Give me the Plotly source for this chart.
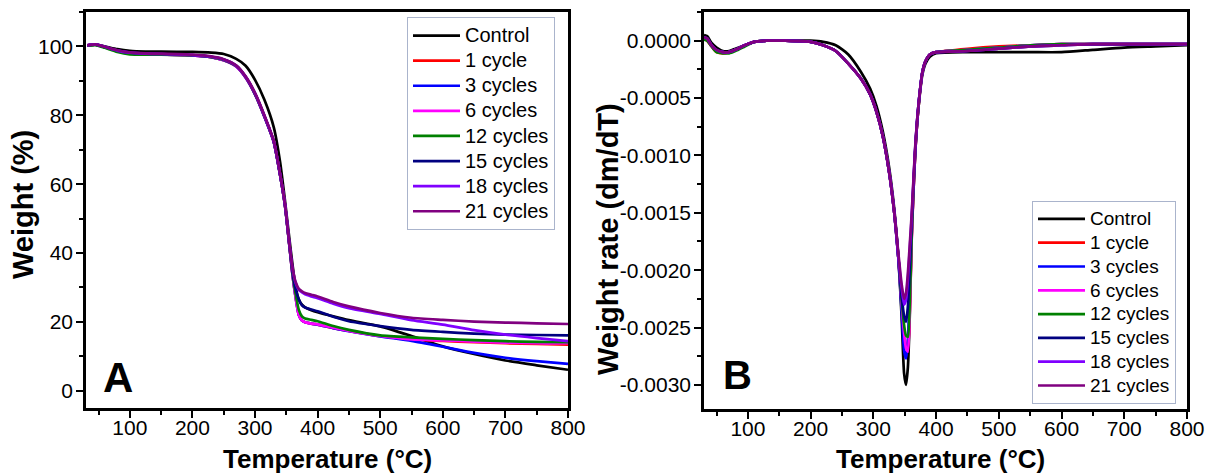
import plotly.graph_objects as go

# ---------------- data ----------------
series_names = ["Control", "1 cycle", "3 cycles", "6 cycles", "12 cycles",
                "15 cycles", "18 cycles", "21 cycles"]
series_colors = ["#000000", "#ff0000", "#0000ff", "#ff00ff", "#008000",
                 "#000080", "#8000ff", "#800080"]

# Panel A: weight (%) vs temperature
temp_a = [32, 45, 60, 80, 100, 125, 150, 200, 230, 250, 270, 285, 300, 315, 330,
          340, 348, 355, 360, 365, 370, 375, 380, 390, 400, 425, 450, 500, 550,
          600, 650, 700, 750, 800]
w_control = [100.2, 100.5, 100.0, 99.2, 98.7, 98.5, 98.5, 98.4, 98.2, 97.8, 96.4, 94.4,
             90.3, 84.5, 76.5, 66.5, 55.0, 44.0, 36.5, 30.0, 26.5, 25.0, 24.2, 23.4,
             22.8, 21.6, 20.5, 18.7, 15.9, 12.9, 10.7, 8.8, 7.4, 6.1]
w_1 = [100.3, 100.5, 99.8, 98.7, 98.1, 97.8, 97.7, 97.4, 96.9, 96.0, 94.2, 91.0,
       86.1, 79.6, 72.3, 62.8, 53.7, 42.1, 33.5, 27.0, 22.0, 20.4, 19.9, 19.5,
       19.2, 18.2, 17.4, 15.9, 14.9, 14.5, 14.1, 13.8, 13.6, 13.4]
w_3 = [100.3, 100.5, 99.8, 98.7, 98.1, 97.8, 97.7, 97.4, 96.9, 96.0, 94.2, 91.0,
       86.1, 79.6, 72.3, 62.8, 53.7, 42.1, 33.5, 27.0, 22.0, 20.4, 19.9, 19.5,
       19.2, 18.2, 17.3, 15.8, 14.5, 12.8, 11.0, 9.6, 8.6, 7.8]
w_6 = [100.3, 100.5, 99.8, 98.7, 98.1, 97.8, 97.7, 97.4, 96.9, 96.0, 94.2, 91.0,
       86.2, 79.7, 72.4, 62.9, 53.8, 42.2, 33.5, 27.0, 22.0, 20.4, 19.9, 19.5,
       19.3, 18.3, 17.4, 15.9, 14.9, 14.6, 14.3, 14.0, 13.8, 13.8]
w_12 = [100.2, 100.4, 99.6, 98.4, 97.7, 97.6, 97.6, 97.4, 96.9, 96.1, 94.3, 91.1,
        86.2, 79.7, 72.2, 62.7, 53.6, 42.0, 34.0, 28.0, 23.5, 21.6, 21.0, 20.6,
        20.2, 18.8, 17.7, 16.1, 15.5, 15.1, 14.7, 14.4, 14.2, 14.1]
w_15 = [100.3, 100.6, 99.9, 98.8, 98.2, 97.9, 97.8, 97.5, 97.0, 96.2, 94.4, 91.2,
        86.3, 79.8, 72.3, 62.8, 53.8, 42.3, 34.5, 29.5, 26.5, 24.8, 24.2, 23.6,
        23.1, 21.5, 20.2, 18.8, 17.7, 17.1, 16.6, 16.3, 16.2, 16.1]
w_18 = [100.3, 100.6, 99.9, 98.8, 98.2, 97.9, 97.8, 97.5, 97.0, 96.2, 94.4, 91.2,
        86.4, 79.8, 72.3, 62.8, 53.8, 42.3, 35.3, 31.3, 29.3, 28.6, 28.0, 27.4,
        26.9, 25.3, 24.0, 22.3, 20.5, 19.2, 17.6, 16.3, 15.3, 14.4]
w_21 = [100.3, 100.6, 99.9, 98.9, 98.3, 98.0, 97.9, 97.6, 97.1, 96.3, 94.5, 91.3,
        86.5, 80.0, 72.5, 63.0, 54.0, 42.5, 35.5, 31.5, 29.6, 28.9, 28.4, 27.9,
        27.4, 25.8, 24.5, 22.6, 21.2, 20.6, 20.1, 19.8, 19.6, 19.4]

# Panel B: weight rate (dm/dT) vs temperature
temp_b = [30, 35, 42, 50, 60, 70, 80, 95, 110, 130, 160, 200, 220, 240, 260, 280,
          295, 305, 315, 325, 333, 340, 345, 349, 352, 355, 358, 361, 364, 367,
          370, 374, 378, 383, 390, 400, 450, 500, 550, 600, 650, 700, 750, 800]
r_control = [0.00005, 0.00004, -0.00002, -0.00006, -0.00009, -0.00009, -0.00007, -0.00004,
             -0.00001, 0.0, 0.0, 0.0, -0.00001, -0.00004, -0.00012, -0.00027, -0.00042,
             -0.00057, -0.00079, -0.0011, -0.00145, -0.0019, -0.0024, -0.0029, -0.003,
             -0.00285, -0.0024, -0.0017, -0.0013, -0.00095, -0.0007, -0.00047, -0.0003,
             -0.0002, -0.00014, -0.00011, -0.0001, -0.0001, -0.0001, -0.0001, -0.00008,
             -0.00006, -0.00005, -0.00004]
r_1 = [0.00002, 0.0, -0.00005, -0.0001, -0.00011, -0.0001, -0.00008, -0.00004,
       -0.00001, 0.0, 0.0, -0.00001, -0.00004, -0.00009, -0.0002, -0.00033, -0.00047,
       -0.00062, -0.00083, -0.00114, -0.00148, -0.0019, -0.00228, -0.00254, -0.00266,
       -0.00268, -0.00236, -0.00174, -0.0013, -0.00095, -0.0007, -0.00046, -0.00028,
       -0.00018, -0.00012, -0.0001, -0.00007, -0.00005, -0.00004, -0.00003, -0.00003,
       -0.00003, -0.00003, -0.00003]
r_3 = [0.00002, 0.00001, -0.00004, -0.00009, -0.0001, -0.0001, -0.00008, -0.00004,
       -0.00001, 0.0, 0.0, -0.00001, -0.00004, -0.00009, -0.0002, -0.00033, -0.00047,
       -0.00062, -0.00083, -0.00114, -0.00148, -0.0019, -0.00235, -0.0027, -0.00277,
       -0.00262, -0.00215, -0.00165, -0.00126, -0.00093, -0.00069, -0.00045, -0.00028,
       -0.00018, -0.00012, -0.0001, -0.00008, -0.00006, -0.00004, -0.00003, -0.00003,
       -0.00003, -0.00003, -0.00003]
r_6 = [0.00002, 0.00001, -0.00004, -0.00009, -0.0001, -0.0001, -0.00008, -0.00004,
       -0.00001, 0.0, 0.0, -0.00001, -0.00004, -0.00009, -0.0002, -0.00033, -0.00047,
       -0.00062, -0.00083, -0.00114, -0.00148, -0.0019, -0.00228, -0.00255, -0.00268,
       -0.00271, -0.00238, -0.00175, -0.0013, -0.00095, -0.0007, -0.00046, -0.00028,
       -0.00018, -0.00012, -0.0001, -0.00008, -0.00006, -0.00004, -0.00003, -0.00003,
       -0.00003, -0.00003, -0.00003]
r_12 = [0.00001, 0.0, -0.00005, -0.0001, -0.00011, -0.00011, -0.00009, -0.00005,
        -0.00001, 0.0, 0.0, -0.00001, -0.00004, -0.00009, -0.0002, -0.00033, -0.00047,
        -0.00062, -0.00083, -0.00114, -0.00148, -0.0019, -0.00225, -0.00248, -0.00257,
        -0.00258, -0.00228, -0.00172, -0.00128, -0.00094, -0.0007, -0.00046, -0.00028,
        -0.00018, -0.00012, -0.0001, -0.00008, -0.00006, -0.00004, -0.00003, -0.00003,
        -0.00003, -0.00003, -0.00003]
r_15 = [0.00003, 0.00002, -0.00004, -0.00008, -0.0001, -0.0001, -0.00008, -0.00004,
        -0.00001, 0.0, 0.0, -0.00001, -0.00004, -0.00009, -0.0002, -0.00033, -0.00047,
        -0.00062, -0.00083, -0.00114, -0.00148, -0.0019, -0.00222, -0.0024, -0.00245,
        -0.00232, -0.00198, -0.0016, -0.00124, -0.00092, -0.00068, -0.00045, -0.00028,
        -0.00018, -0.00012, -0.0001, -0.00009, -0.00007, -0.00005, -0.00004, -0.00003,
        -0.00003, -0.00003, -0.00003]
r_18 = [0.00003, 0.00002, -0.00004, -0.00008, -0.0001, -0.0001, -0.00008, -0.00004,
        -0.00001, 0.0, 0.0, -0.00001, -0.00004, -0.00009, -0.0002, -0.00033, -0.00047,
        -0.00062, -0.00083, -0.00114, -0.00148, -0.0019, -0.00215, -0.0023, -0.00226,
        -0.00208, -0.00182, -0.00155, -0.00122, -0.00091, -0.00068, -0.00045, -0.00028,
        -0.00018, -0.00012, -0.0001, -0.00009, -0.00007, -0.00005, -0.00004, -0.00003,
        -0.00003, -0.00003, -0.00003]
r_21 = [0.00003, 0.00002, -0.00004, -0.00008, -0.0001, -0.0001, -0.00008, -0.00004,
        -0.00001, 0.0, 0.0, -0.00001, -0.00004, -0.00009, -0.0002, -0.00033, -0.00047,
        -0.00062, -0.00083, -0.00114, -0.00148, -0.00186, -0.00212, -0.00225, -0.0022,
        -0.00203, -0.00178, -0.00152, -0.0012, -0.0009, -0.00068, -0.00045, -0.00028,
        -0.00018, -0.00012, -0.0001, -0.00009, -0.00007, -0.00005, -0.00004, -0.00003,
        -0.00003, -0.00003, -0.00003]

weights = [w_control, w_1, w_3, w_6, w_12, w_15, w_18, w_21]
rates = [r_control, r_1, r_3, r_6, r_12, r_15, r_18, r_21]

x_ticks = [100, 200, 300, 400, 500, 600, 700, 800]
ya_ticks = [0, 20, 40, 60, 80, 100]
yb_ticks = [0.0, -0.0005, -0.0010, -0.0015, -0.0020, -0.0025, -0.0030]
yb_ticklabels = ["0.0000", "-0.0005", "-0.0010", "-0.0015", "-0.0020", "-0.0025", "-0.0030"]

# ---------------- figure ----------------
# the page body has an 8 px margin; the figure is sized and positioned to compensate
OFF = 8
W, H = 1218 - OFF, 474 - OFF
FONT = "Liberation Sans, Arial, Helvetica, sans-serif"


def px_x(p):
    return (p - OFF) / W


def px_y(p):
    return 1 - (p - OFF) / H


fig = go.Figure()
for name, color, w in zip(series_names, series_colors, weights):
    fig.add_trace(go.Scatter(x=temp_a, y=w, name='<span style="font-size:20px">%s</span>' % name,
                             mode="lines",
                             line=dict(color=color, width=2.7, shape="spline", smoothing=0.6),
                             xaxis="x", yaxis="y", legend="legend"))
for name, color, r in zip(series_names, series_colors, rates):
    fig.add_trace(go.Scatter(x=temp_b, y=r, name='<span style="font-size:19px">%s</span>' % name,
                             mode="lines",
                             line=dict(color=color, width=2.7, shape="spline", smoothing=0.6),
                             xaxis="x2", yaxis="y2", legend="legend2"))

axis_common = dict(showline=True, linecolor="black", linewidth=2.5, mirror=True,
                   ticks="outside", ticklen=7, tickwidth=2, tickcolor="black",
                   showgrid=False, zeroline=False, automargin=False,
                   tickfont=dict(family=FONT, size=21, color="black"))
minor_style = dict(ticklen=4, tickwidth=2, tickcolor="black", ticks="outside")

fig.update_layout(
    width=W, height=H,
    margin=dict(l=0, r=0, t=0, b=0, pad=0),
    paper_bgcolor="white", plot_bgcolor="white",
    showlegend=True,
    xaxis=dict(domain=[px_x(86), px_x(568)], range=[30, 800], tickvals=x_ticks,
               minor=dict(dtick=50, tick0=0, **minor_style), ticklabelstandoff=-8,
               anchor="y", **axis_common),
    yaxis=dict(domain=[px_y(408), px_y(12)], range=[-5, 110], tickvals=ya_ticks,
               minor=dict(dtick=10, tick0=0, **minor_style), ticklabelstandoff=-1,
               anchor="x", **axis_common),
    xaxis2=dict(domain=[px_x(704), px_x(1187)], range=[30, 800], tickvals=x_ticks,
                minor=dict(dtick=50, tick0=0, **minor_style), ticklabelstandoff=-8,
                anchor="y2", **axis_common),
    yaxis2=dict(domain=[px_y(409), px_y(12)], range=[-0.00321, 0.00025],
                tickvals=yb_ticks, ticktext=yb_ticklabels,
                minor=dict(dtick=0.00025, tick0=0, **minor_style), ticklabelstandoff=-1,
                anchor="x2", **axis_common),
    legend=dict(x=px_x(407), y=px_y(17), xanchor="left", yanchor="top",
                bgcolor="white", bordercolor="#aab4cc", borderwidth=1, itemwidth=47,
                font=dict(family=FONT, size=17, color="black"), tracegroupgap=0),
    legend2=dict(x=px_x(1032), y=px_y(201), xanchor="left", yanchor="top",
                 bgcolor="white", bordercolor="#aab4cc", borderwidth=1, itemwidth=47,
                 font=dict(family=FONT, size=16, color="black"), tracegroupgap=0),
)

title_font_x = dict(family=FONT, size=26, color="black", weight="bold")
title_font_y = dict(family=FONT, size=29, color="black", weight="bold")
fig.add_annotation(text="Temperature (°C)", x=px_x(327), y=px_y(459), xref="paper", yref="paper",
                   showarrow=False, xanchor="center", yanchor="middle", font=title_font_x)
fig.add_annotation(text="Temperature (°C)", x=px_x(940), y=px_y(459), xref="paper", yref="paper",
                   showarrow=False, xanchor="center", yanchor="middle", font=title_font_x)
fig.add_annotation(text="Weight (%)", x=px_x(23), y=px_y(205), xref="paper", yref="paper",
                   showarrow=False, xanchor="center", yanchor="middle", textangle=-90, font=title_font_y)
fig.add_annotation(text="Weight rate (dm/dT)", x=px_x(608), y=px_y(239), xref="paper", yref="paper",
                   showarrow=False, xanchor="center", yanchor="middle", textangle=-90, font=title_font_y)
fig.add_annotation(text="A", x=px_x(118), y=px_y(377), xref="paper", yref="paper",
                   showarrow=False, xanchor="center", yanchor="middle",
                   font=dict(family=FONT, size=42, color="black", weight="bold"))
fig.add_annotation(text="B", x=px_x(737), y=px_y(375), xref="paper", yref="paper",
                   showarrow=False, xanchor="center", yanchor="middle",
                   font=dict(family=FONT, size=40, color="black", weight="bold"))

fig.write_html("out.html")
